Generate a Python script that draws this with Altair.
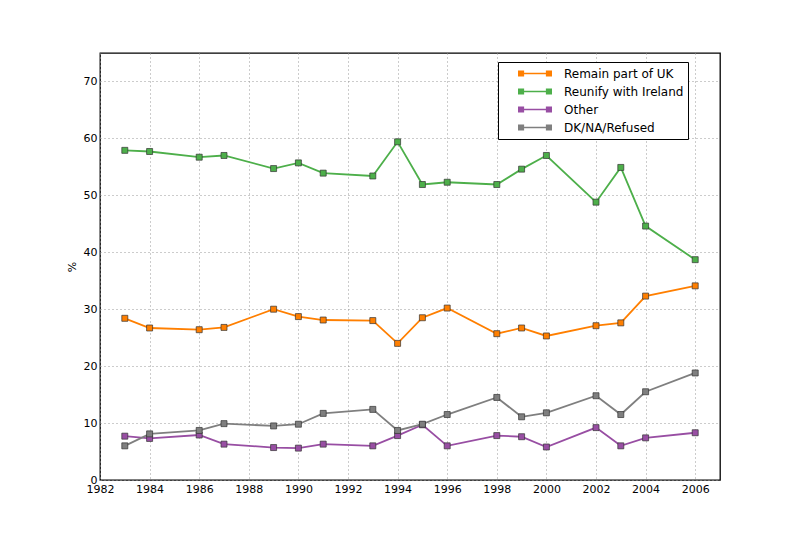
import altair as alt
import pandas as pd

years = [1983, 1984, 1986, 1987, 1989, 1990, 1991, 1993, 1994, 1995, 1996,
         1998, 1999, 2000, 2002, 2003, 2004, 2006]
remain = [28.4, 26.7, 26.4, 26.8, 30.0, 28.7, 28.1, 28.0, 24.0, 28.5, 30.2,
          25.7, 26.7, 25.3, 27.1, 27.6, 32.3, 34.1]
reunify = [57.9, 57.7, 56.7, 57.0, 54.7, 55.7, 53.9, 53.4, 59.4, 51.9, 52.3,
           51.9, 54.6, 57.0, 48.8, 54.9, 44.6, 38.7]
other = [7.7, 7.3, 7.9, 6.3, 5.7, 5.6, 6.3, 6.0, 7.8, 9.7, 6.0,
         7.8, 7.6, 5.8, 9.2, 6.0, 7.4, 8.3]
dk = [6.0, 8.1, 8.7, 9.9, 9.5, 9.8, 11.7, 12.4, 8.7, 9.8, 11.5,
      14.5, 11.1, 11.8, 14.8, 11.5, 15.5, 18.8]

series_names = ["Remain part of UK", "Reunify with Ireland", "Other", "DK/NA/Refused"]
series_colors = ["#ff7f00", "#4daf4a", "#984ea3", "#7f7f7f"]
x_ticks = list(range(1982, 2007, 2))
y_ticks = list(range(0, 71, 10))

rows = []
for name, vals in zip(series_names, [remain, reunify, other, dk]):
    for yr, v in zip(years, vals):
        rows.append({"year": yr, "value": v, "series": name})
df = pd.DataFrame(rows)

color_scale = alt.Scale(domain=series_names, range=series_colors)

legend_path = ("M-0.85,-0.05H0.85V0.05H-0.85Z"
               "M-1,-0.18H-0.64V0.18H-1Z"
               "M0.64,-0.18H1V0.18H0.64Z")

legend = alt.Legend(
    title=None, orient="none", legendX=398, legendY=9,
    symbolType=legend_path, symbolSize=1156,
    symbolStrokeWidth=0, symbolOpacity=1,
    symbolOffset=16, clipHeight=15,
    labelFont="DejaVu Sans", labelFontSize=12,
    labelColor="black", labelOffset=12,
    labelExpr="datum.label + '" + "\u00a0" * 10 + "'",
    rowPadding=3, padding=4,
    strokeColor="black", fillColor="white",
)

x_enc = alt.X("year:Q",
              scale=alt.Scale(domain=[1982, 2007], nice=False, zero=False),
              axis=alt.Axis(values=x_ticks, format="d", title=None, labelFlush=False))
y_enc = alt.Y("value:Q",
              scale=alt.Scale(domain=[0, 75], nice=False),
              axis=alt.Axis(values=y_ticks, title="%", labelFlush=False))
color_enc = alt.Color("series:N", scale=color_scale, sort=series_names, legend=legend)

lines = alt.Chart(df).mark_line(strokeWidth=1.8).encode(
    x=x_enc, y=y_enc, color=color_enc,
)

points = alt.Chart(df).mark_point(
    shape="square", filled=True, size=36, opacity=1,
    stroke="#333333", strokeWidth=0.7,
).encode(
    x=x_enc, y=y_enc, color=color_enc,
)

chart = alt.layer(lines, points).properties(
    width=620, height=427,
    padding={"left": 92, "top": 45, "right": 60, "bottom": 40},
    autosize=alt.AutoSizeParams(type="none"),
).configure_view(
    stroke="black", strokeWidth=1.3,
).configure_axis(
    labelFont="DejaVu Sans", labelFontSize=11, labelColor="black",
    titleFont="DejaVu Sans", titleFontSize=11, titleFontWeight="normal",
    titleColor="black",
    domain=False, ticks=False, labelPadding=3,
    grid=True, gridColor="#999999", gridDash=[1, 3], gridWidth=1,
    labelOverlap=False,
).configure_axisY(
    titlePadding=6,
)

chart.save("out.html", embed_options={"renderer": "svg", "actions": False})
